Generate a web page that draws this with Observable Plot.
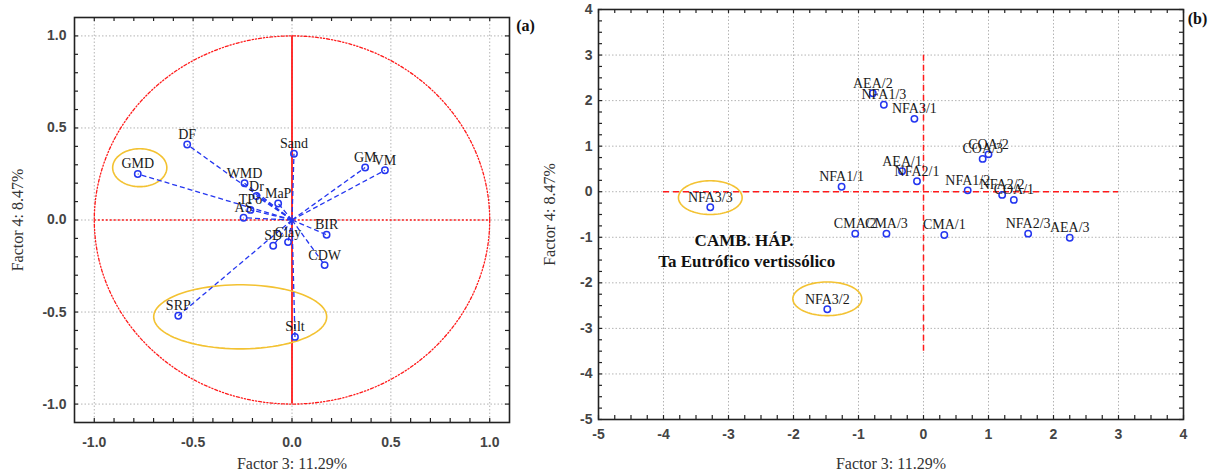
<!DOCTYPE html>
<html><head><meta charset="utf-8">
<script src="https://cdn.jsdelivr.net/npm/d3@7"></script>
<script src="https://cdn.jsdelivr.net/npm/@observablehq/plot@0.6"></script>
<style>
body{margin:0;background:#fff}
#wrap{display:flex;width:1211px;height:473px;overflow:hidden}
</style>
</head><body><div id="wrap"></div>
<script>
// ---------- Panel (a): variable loadings ----------
const vecNames = ["DF","GMD","WMD","Dr","TPo","AS","MaP","Sand","GM","VM","BIR","CDW","SD","Clay","SRP","Silt"];
const vecF3 = [-0.53,-0.78,-0.24,-0.18,-0.21,-0.245,-0.07,0.01,0.37,0.47,0.175,0.165,-0.095,-0.02,-0.575,0.015];
const vecF4 = [0.41,0.25,0.20,0.13,0.055,0.012,0.09,0.36,0.285,0.27,-0.08,-0.245,-0.14,-0.12,-0.52,-0.635];
const ticksA = [-1.0,-0.5,0.0,0.5,1.0];
const highlightA = [
  {id:"GMD", cx:-0.77, cy:0.284, rx:0.137, ry:0.103},
  {id:"SRP-Silt", cx:-0.262, cy:-0.526, rx:0.4375, ry:0.174}
];

// ---------- Panel (b): sample scores ----------
const sampNames = ["AEA/2","NFA1/3","NFA3/1","AEA/1","NFA2/1","NFA1/1","NFA3/3","CMA/2","CMA/3","CMA/1","COA/2","COA/3","NFA1/2","NFA2/2","COA/1","NFA2/3","AEA/3","NFA3/2"];
const sampF3 = [-0.78,-0.61,-0.14,-0.33,-0.10,-1.26,-3.28,-1.05,-0.57,0.32,1.00,0.91,0.68,1.21,1.39,1.61,2.25,-1.48];
const sampF4 = [2.16,1.91,1.60,0.45,0.23,0.11,-0.34,-0.92,-0.92,-0.95,0.82,0.72,0.03,-0.07,-0.18,-0.92,-1.01,-2.58];
const ticksB = [-5,-4,-3,-2,-1,0,1,2,3,4];
const highlightB = [
  {id:"NFA3/3", cx:-3.28, cy:-0.13, rx:0.49, ry:0.37},
  {id:"NFA3/2", cx:-1.48, cy:-2.35, rx:0.53, ry:0.37}
];
const noteText = ["CAMB. HÁP.", "Ta Eutrófico vertissólico"];
const noteF3 = [-2.76, -2.72];
const noteF4 = [-1.07, -1.54];

const xTitle = "Factor 3: 11.29%";
const yTitle = "Factor 4: 8.47%";

const serif = "Liberation Serif, 'Times New Roman', serif";
const sans = "Liberation Sans, Arial, sans-serif";
const blue = "#2436f0", red = "#ff1a1a", gold = "#f3c232", grid = "#b4b4b4";

function ellipsePts(list){
  return list.flatMap(e => d3.range(0, 361, 4).map(a => ({
    id: e.id, x: e.cx + e.rx*Math.cos(a*Math.PI/180), y: e.cy + e.ry*Math.sin(a*Math.PI/180)})));
}
function frameTicks(minorX, minorY, W, H, len){
  return [
    Plot.tickX(minorX, {x: d=>d, insetTop: H-len, stroke:"#222", strokeWidth:1.2}),
    Plot.tickX(minorX, {x: d=>d, insetBottom: H-len, stroke:"#222", strokeWidth:1.2}),
    Plot.tickY(minorY, {y: d=>d, insetRight: W-len, stroke:"#222", strokeWidth:1.2}),
    Plot.tickY(minorY, {y: d=>d, insetLeft: W-len, stroke:"#222", strokeWidth:1.2})
  ];
}

// ---- Panel a
const A = {w:540, h:473, ml:74, mr:31, mt:17, mb:51};
const aW = A.w-A.ml-A.mr, aH = A.h-A.mt-A.mb;
const vectors = vecNames.map((name,i)=>({name, x:vecF3[i], y:vecF4[i]}));
const unitCircle = d3.range(0, 361, 2).map(a => ({x:Math.cos(a*Math.PI/180), y:Math.sin(a*Math.PI/180)}));
const minorA = d3.range(-10, 11).map(i => i/10);

const plotA = Plot.plot({
  width:A.w, height:A.h, marginLeft:A.ml, marginRight:A.mr, marginTop:A.mt, marginBottom:A.mb,
  x:{domain:[-1.1,1.1]}, y:{domain:[-1.1,1.1]},
  style:{fontFamily:sans, background:"white", overflow:"visible"},
  marks:[
    Plot.gridX(ticksA, {stroke:grid, strokeOpacity:1, strokeDasharray:"1.5,2"}),
    Plot.gridY(ticksA, {stroke:grid, strokeOpacity:1, strokeDasharray:"1.5,2"}),
    Plot.line(unitCircle, {x:"x", y:"y", stroke:red, strokeWidth:1.3, strokeDasharray:"3,2,1.2,2,1.2,2"}),
    Plot.ruleY([0], {x1:-1, x2:1, stroke:red, strokeWidth:1.4, strokeDasharray:"2,2"}),
    Plot.ruleX([0], {y1:-1, y2:1, stroke:red, strokeWidth:1.8}),
    Plot.line(ellipsePts(highlightA), {x:"x", y:"y", z:"id", stroke:gold, strokeWidth:1.6}),
    Plot.link(vectors, {x1:()=>0, y1:()=>0, x2:"x", y2:"y", stroke:blue, strokeWidth:1.3, strokeDasharray:"5,3"}),
    Plot.dot(vectors, {x:"x", y:"y", r:3.2, stroke:blue, strokeWidth:1.5, fill:"none"}),
    Plot.text(vectors, {x:"x", y:"y", text:"name", dy:-10, fontFamily:serif, fontSize:14, fill:"#1a1a1a"}),
    Plot.frame({stroke:"#222", strokeWidth:1.6}),
    ...frameTicks(minorA, minorA, aW, aH, 4),
    Plot.axisX(ticksA, {anchor:"bottom", tickSize:0, tickPadding:15, tickFormat:d=>d.toFixed(1), fontSize:14, fontWeight:"bold", fill:"#444", label:null}),
    Plot.axisY(ticksA, {anchor:"left", tickSize:0, tickPadding:8, tickFormat:d=>d.toFixed(1), fontSize:14, fontWeight:"bold", fill:"#444", label:null}),
    Plot.text([xTitle], {text:d=>d, frameAnchor:"bottom", dy:41, fontFamily:serif, fontSize:16, fill:"#333", textAnchor:"middle", lineAnchor:"middle"}),
    Plot.text([yTitle], {text:d=>d, frameAnchor:"left", dx:-57, rotate:-90, fontFamily:serif, fontSize:16, fill:"#333", textAnchor:"middle", lineAnchor:"middle"}),
    Plot.text(["(a)"], {text:d=>d, frameAnchor:"top-right", dx:16, dy:8, fontFamily:serif, fontSize:16, fontWeight:"bold", fill:"#111", textAnchor:"middle", lineAnchor:"middle"})
  ]
});

// ---- Panel b
const B = {w:671, h:473, ml:58, mr:28, mt:9, mb:54};
const bW = B.w-B.ml-B.mr, bH = B.h-B.mt-B.mb;
const samples = sampNames.map((name,i)=>({name, x:sampF3[i], y:sampF4[i]}));
const notes = noteText.map((t,i)=>({t, x:noteF3[i], y:noteF4[i]}));
const minorB = d3.range(-20, 17).map(i => i/4);
const innerB = ticksB.slice(1, -1);

const plotB = Plot.plot({
  width:B.w, height:B.h, marginLeft:B.ml, marginRight:B.mr, marginTop:B.mt, marginBottom:B.mb,
  x:{domain:[-5,4]}, y:{domain:[-5,4]},
  style:{fontFamily:sans, background:"white", overflow:"visible"},
  marks:[
    Plot.gridX(innerB, {stroke:grid, strokeOpacity:1, strokeDasharray:"1.5,2"}),
    Plot.gridY(innerB, {stroke:grid, strokeOpacity:1, strokeDasharray:"1.5,2"}),
    Plot.ruleY([0], {x1:-4, x2:3, stroke:red, strokeWidth:1.5, strokeDasharray:"6,4"}),
    Plot.ruleX([0], {y1:-3.5, y2:3, stroke:red, strokeWidth:1.5, strokeDasharray:"6,4"}),
    Plot.line(ellipsePts(highlightB), {x:"x", y:"y", z:"id", stroke:gold, strokeWidth:1.6}),
    Plot.dot(samples, {x:"x", y:"y", r:3.2, stroke:blue, strokeWidth:1.5, fill:"none"}),
    Plot.text(samples, {x:"x", y:"y", text:"name", dy:-10, fontFamily:serif, fontSize:14, fill:"#1a1a1a"}),
    Plot.text(notes, {x:"x", y:"y", text:"t", fontFamily:serif, fontSize:17, fontWeight:"bold", fill:"#111"}),
    Plot.frame({stroke:"#222", strokeWidth:1.6}),
    ...frameTicks(minorB, minorB, bW, bH, 4),
    Plot.axisX(ticksB, {anchor:"bottom", tickSize:0, tickPadding:10, tickFormat:d=>String(d), fontSize:14, fontWeight:"bold", fill:"#444", label:null}),
    Plot.axisY(ticksB, {anchor:"left", tickSize:0, tickPadding:6, tickFormat:d=>String(d), fontSize:14, fontWeight:"bold", fill:"#444", label:null}),
    Plot.text([xTitle], {text:d=>d, frameAnchor:"bottom", dy:44, fontFamily:serif, fontSize:16, fill:"#333", textAnchor:"middle", lineAnchor:"middle"}),
    Plot.text([yTitle], {text:d=>d, frameAnchor:"left", dx:-49, rotate:-90, fontFamily:serif, fontSize:16, fill:"#333", textAnchor:"middle", lineAnchor:"middle"}),
    Plot.text(["(b)"], {text:d=>d, frameAnchor:"top-right", dx:14, dy:9, fontFamily:serif, fontSize:16, fontWeight:"bold", fill:"#111", textAnchor:"middle", lineAnchor:"middle"})
  ]
});

const wrap = document.getElementById("wrap");
wrap.appendChild(plotA);
wrap.appendChild(plotB);
</script>
</body></html>
